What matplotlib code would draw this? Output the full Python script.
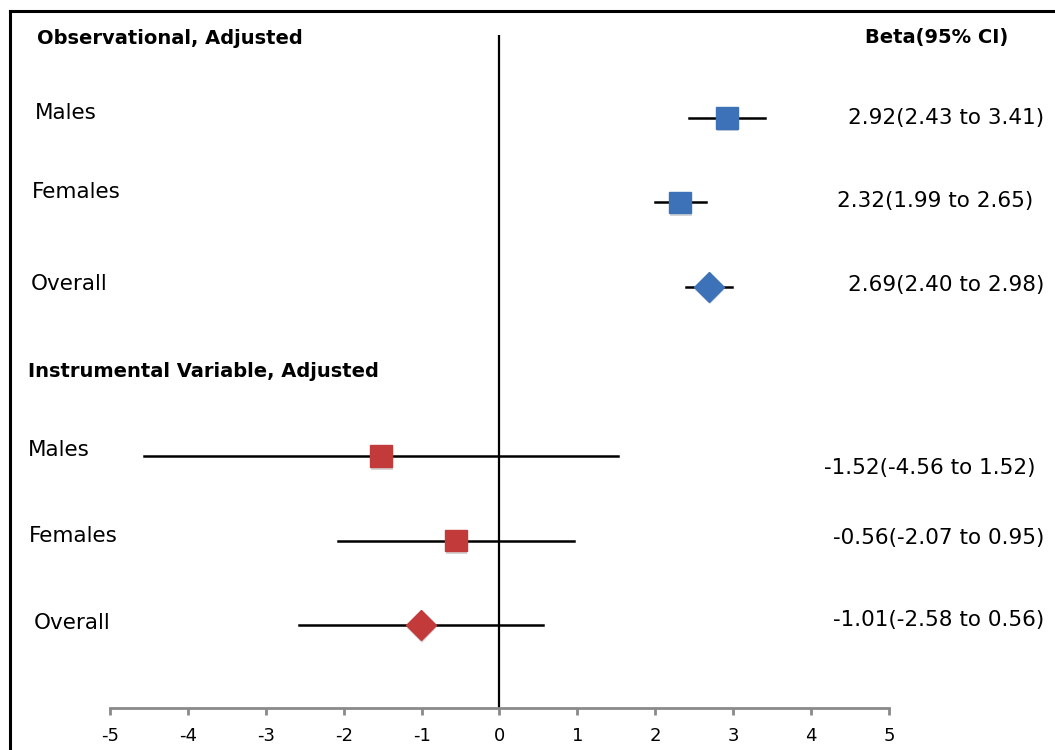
import matplotlib
matplotlib.use("Agg")
import matplotlib.pyplot as plt
import matplotlib.patheffects as pe
from matplotlib.lines import Line2D
from matplotlib.transforms import blended_transform_factory

plt.rcParams['font.family'] = ['DejaVu Sans']

# Data
groups = ['Observational, Adjusted', 'Instrumental Variable, Adjusted']
labels = ['Males', 'Females', 'Overall']
obs_beta = [2.92, 2.32, 2.69]
obs_lo = [2.43, 1.99, 2.40]
obs_hi = [3.41, 2.65, 2.98]
iv_beta = [-1.52, -0.56, -1.01]
iv_lo = [-4.56, -2.07, -2.58]
iv_hi = [1.52, 0.95, 0.56]
xticks = [-5, -4, -3, -2, -1, 0, 1, 2, 3, 4, 5]

blue = '#3D72B8'
red = '#C23B3A'

fig = plt.figure(figsize=(10.55, 7.5), dpi=100)
ax = fig.add_axes([110 / 1055, 42 / 750, 779 / 1055, 673 / 750])
ax.set_xlim(-5, 5)
ax.set_ylim(7.98, 0.02)

# outer frame (Excel chart border)
fig.add_artist(Line2D([10 / 1055, 10 / 1055], [0, 739 / 750], transform=fig.transFigure, color='black', lw=2.2))
fig.add_artist(Line2D([10 / 1055, 1], [739 / 750, 739 / 750], transform=fig.transFigure, color='black', lw=2.2))

ax.axvline(0, color='black', lw=1.6, zorder=1)

shadow = [pe.SimplePatchShadow(offset=(0.5, -2), alpha=0.22, shadow_rgbFace='#444444'), pe.Normal()]
lblx = blended_transform_factory(fig.transFigure, ax.transData)

# small hand nudges, as in the original
head_x = [37, 28]
txt_dx = [[0, -11, 0], [-9, 0, 0]]
txt_dy = [[0, -0.02, -0.02], [0.14, -0.03, -0.06]]
lbl_x = [[35, 32, 31], [28, 29, 34]]
lbl_dy = [[-0.06, -0.12, -0.04], [-0.07, -0.05, -0.02]]

sets = [(obs_beta, obs_lo, obs_hi, blue), (iv_beta, iv_lo, iv_hi, red)]
for g, (beta, lo, hi, col) in enumerate(sets):
    base = g * 4
    ax.text(head_x[g] / 1055, base + 0.06 - 0.06 * g, groups[g], transform=lblx, fontsize=14,
            fontweight='bold', ha='left', va='center')
    for i in range(3):
        y = base + 1 + i
        ax.plot([lo[i], hi[i]], [y, y], color='black', lw=1.8, zorder=2)
        mk = 'D' if labels[i] == 'Overall' else 's'
        ms = 15 if mk == 'D' else 15.5
        ax.plot([beta[i]], [y], marker=mk, ms=ms, color=col, mec=col, ls='none', zorder=3,
                path_effects=shadow)
        ax.text(lbl_x[g][i] / 1055, y + lbl_dy[g][i], labels[i], transform=lblx, fontsize=15.5,
                ha='left', va='center')
        txt = '%.2f(%.2f to %.2f)' % (beta[i], lo[i], hi[i])
        ax.text((1044 + txt_dx[g][i]) / 1055, y + txt_dy[g][i], txt, transform=lblx, fontsize=15.5,
                ha='right', va='center')

ax.text(937 / 1055, 0.05, 'Beta(95% CI)', transform=lblx, fontsize=14, fontweight='bold',
        ha='center', va='center')

for s in ['top', 'left', 'right']:
    ax.spines[s].set_visible(False)
ax.spines['bottom'].set_color('#8A8A8A')
ax.spines['bottom'].set_linewidth(2)
ax.set_yticks([])
ax.set_xticks(xticks)
ax.set_xticklabels([str(t) for t in xticks])
ax.tick_params(axis='x', direction='out', length=5, width=2, color='#8A8A8A', labelsize=13, pad=9)

fig.savefig('out.png', dpi=100)
